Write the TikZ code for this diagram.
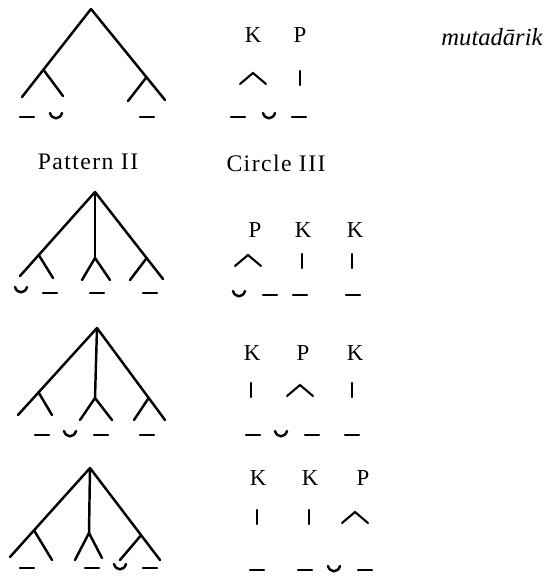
\documentclass[tikz,border=0pt]{standalone}
\usepackage{fontspec}
\setmainfont{Liberation Serif}
\newfontfamily\labfont{Liberation Serif}[LetterSpace=6]
\usetikzlibrary{calc}

\begin{document}
\begin{tikzpicture}[x=0.02cm,y=-0.02cm,
  branch/.style={line width=1.4pt,line cap=round,line join=round},
  sym/.style={line width=1.4pt,line cap=round},
  foot/.style={font=\fontsize{13}{15}\selectfont},
  heading/.style={font=\labfont\fontsize{13.5}{15}\selectfont}]
\useasboundingbox (0,0) rectangle (550,577);
% tree one
\coordinate (a1) at (91,9); \coordinate (l1) at (22,97); \coordinate (r1) at (165,100);
\coordinate (ls1) at ($(a1)!.69!(l1)$); \coordinate (rs1) at ($(a1)!.75!(r1)$);
\draw[branch] (l1)--(a1)--(r1);
\draw[branch] (ls1)--(63,96); \draw[branch] (rs1)--(128,101);
% tree two
\coordinate (a2) at (95,192); \coordinate (l2) at (20,276); \coordinate (r2) at (163,279);
\coordinate (ls2) at ($(a2)!.75!(l2)$); \coordinate (rs2) at ($(a2)!.76!(r2)$);
\coordinate (c2) at (95,258);
\draw[branch] (l2)--(a2)--(r2); \draw[branch] (a2)--(c2);
\draw[branch] (ls2)--(53,278); \draw[branch] (rs2)--(130,280);
\draw[branch] (82,280)--(c2)--(110,280);
% tree three
\coordinate (a3) at (97,328); \coordinate (l3) at (18,415); \coordinate (r3) at (165,420);
\coordinate (ls3) at ($(a3)!.74!(l3)$); \coordinate (rs3) at ($(a3)!.76!(r3)$);
\coordinate (c3) at (95,398);
\draw[branch] (l3)--(a3)--(r3); \draw[branch] (a3)--(c3);
\draw[branch] (ls3)--(52,415); \draw[branch] (rs3)--(134,420);
\draw[branch] (80,420)--(c3)--(112,420);
% tree four
\coordinate (a4) at (90,468); \coordinate (l4) at (10,557); \coordinate (r4) at (160,560);
\coordinate (ls4) at ($(a4)!.70!(l4)$); \coordinate (rs4) at ($(a4)!.73!(r4)$);
\coordinate (c4) at (89,533);
\draw[branch] (l4)--(a4)--(r4); \draw[branch] (a4)--(c4);
\draw[branch] (ls4)--(52,560); \draw[branch] (rs4)--(120,560);
\draw[branch] (75,560)--(c4)--(102,558);
% long syllables
\foreach \x/\y in {27/117,147/117,50/293,97/293,150/293,42/435,101/435,147/435,27/568,92/568,150/568,
  238/117,299/117,270/295,300/295,353/295,253/435,312/435,352/435,257/570,305/570,365/570}
  \draw[sym] (\x-7,\y)--++(14,0);
% short syllables
\foreach \x/\y in {56/117,21/291,70/435,120/568,269/117,239/295,281/435,334/570}
  \draw[sym] (\x-6,\y-4) .. controls (\x-4,\y+3) and (\x+4,\y+3) .. (\x+6,\y-4);
% watad and sabab marks
\foreach \x/\y in {253/78,248/260,300/390,355/517}
  \draw[sym,line width=1.2pt] (\x-13,\y+6)--(\x,\y-5)--(\x+13,\y+6);
\foreach \x/\y in {300/78,302/261,352/261,251/390,352/390,257/517,309/517}
  \draw[sym,line width=1.2pt] (\x,\y-7)--(\x,\y+7);
% labels
\node[foot] (k11) at (253,35) {K}; \node[foot] (p12) at (300,35) {P};
\node[foot] (p21) at (255,230) {P}; \node[foot] (k22) at (303,230) {K}; \node[foot] (k23) at (355,230) {K};
\node[foot] (k31) at (252,353) {K}; \node[foot] (p32) at (303,353) {P}; \node[foot] (k33) at (355,353) {K};
\node[foot] (k41) at (258,478) {K}; \node[foot] (k42) at (310,478) {K}; \node[foot] (p43) at (363,478) {P};
\node[heading] (pat) at (88,162) {Pattern II};
\node[heading] (circ) at (276,163) {Circle III};
\node[font=\itshape\fontsize{14}{16}\selectfont] (mut) at (492,37) {mutadārik};
\end{tikzpicture}
\end{document}
